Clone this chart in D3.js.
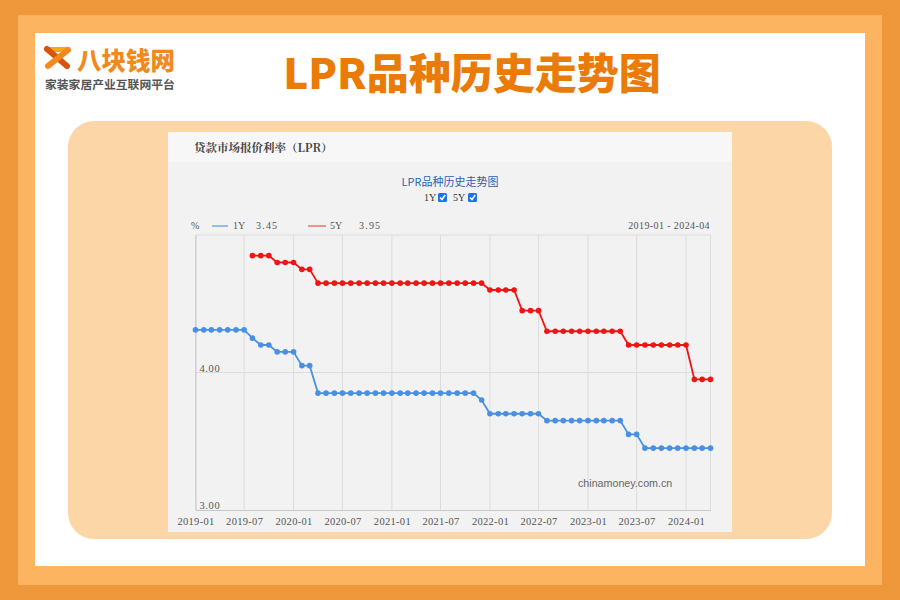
<html>
<head>
<meta charset="utf-8">
<script src="https://d3js.org/d3.v7.min.js"></script>
<style>
	body { margin: 0; background: #ffffff; }
	svg { display: block; }
</style>
</head>
<body>
<script>
	// months shown in the chart (2019-01 .. 2024-04)
	var months = [
		"2019-01","2019-02","2019-03","2019-04","2019-05","2019-06","2019-07","2019-08","2019-09","2019-10","2019-11","2019-12",
		"2020-01","2020-02","2020-03","2020-04","2020-05","2020-06","2020-07","2020-08","2020-09","2020-10","2020-11","2020-12",
		"2021-01","2021-02","2021-03","2021-04","2021-05","2021-06","2021-07","2021-08","2021-09","2021-10","2021-11","2021-12",
		"2022-01","2022-02","2022-03","2022-04","2022-05","2022-06","2022-07","2022-08","2022-09","2022-10","2022-11","2022-12",
		"2023-01","2023-02","2023-03","2023-04","2023-05","2023-06","2023-07","2023-08","2023-09","2023-10","2023-11","2023-12",
		"2024-01","2024-02","2024-03","2024-04"];
	var lpr1y = [
		4.31,4.31,4.31,4.31,4.31,4.31,4.31,4.25,4.20,4.20,4.15,4.15,
		4.15,4.05,4.05,3.85,3.85,3.85,3.85,3.85,3.85,3.85,3.85,3.85,
		3.85,3.85,3.85,3.85,3.85,3.85,3.85,3.85,3.85,3.85,3.85,3.80,
		3.70,3.70,3.70,3.70,3.70,3.70,3.70,3.65,3.65,3.65,3.65,3.65,
		3.65,3.65,3.65,3.65,3.65,3.55,3.55,3.45,3.45,3.45,3.45,3.45,
		3.45,3.45,3.45,3.45];
	var lpr5y = [
		null,null,null,null,null,null,null,4.85,4.85,4.85,4.80,4.80,
		4.80,4.75,4.75,4.65,4.65,4.65,4.65,4.65,4.65,4.65,4.65,4.65,
		4.65,4.65,4.65,4.65,4.65,4.65,4.65,4.65,4.65,4.65,4.65,4.65,
		4.60,4.60,4.60,4.60,4.45,4.45,4.45,4.30,4.30,4.30,4.30,4.30,
		4.30,4.30,4.30,4.30,4.30,4.20,4.20,4.20,4.20,4.20,4.20,4.20,
		4.20,3.95,3.95,3.95];
	var xTicks = ["2019-01","2019-07","2020-01","2020-07","2021-01","2021-07","2022-01","2022-07","2023-01","2023-07","2024-01"];
	var yTicks = [3, 4];

	var width = 900, height = 600;
	var parse = d3.timeParse("%Y-%m");
	var blue = "#4a90e2", red = "#f01414";

	var svg = d3.select("body").append("svg")
		.attr("width", width)
		.attr("height", height);

	// frame
	svg.append("rect").attr("width", width).attr("height", height).attr("fill", "#ee973b");
	svg.append("rect").attr("x", 18).attr("y", 15).attr("width", 864).attr("height", 570).attr("fill", "#fdb460");
	svg.append("rect").attr("x", 35).attr("y", 33).attr("width", 830).attr("height", 533).attr("fill", "#ffffff");
	svg.append("rect").attr("x", 68).attr("y", 121).attr("width", 764).attr("height", 418)
		.attr("rx", 26).attr("fill", "#fdd6a7");

	// logo
	var logo = svg.append("g");
	logo.append("path").attr("d", "M46,47 L70,47 L70,52 L46,52 Z").attr("fill", "#f5a623");
	logo.append("path").attr("d", "M47,49 L67,66").attr("stroke", "#d9540b").attr("stroke-width", 6).attr("stroke-linecap", "round");
	logo.append("path").attr("d", "M68,50 L48,66").attr("stroke", "#f08a1c").attr("stroke-width", 6).attr("stroke-linecap", "round");
	logo.append("text").attr("x", 77).attr("y", 70).text("八块钱网")
		.attr("font-family", "Noto Sans CJK SC").attr("font-weight", 900).attr("font-size", 24.5)
		.attr("fill", "#f08a1c");
	logo.append("text").attr("x", 45).attr("y", 89).text("家装家居产业互联网平台")
		.attr("font-family", "Noto Sans CJK SC").attr("font-weight", 700).attr("font-size", 11.8)
		.attr("fill", "#555555");

	// main title
	svg.append("text").attr("x", 472).attr("y", 89).attr("text-anchor", "middle")
		.text("LPR品种历史走势图")
		.attr("font-family", "Noto Sans CJK SC").attr("font-weight", 900).attr("font-size", 42)
		.attr("fill", "#ea7b06");

	// embedded chart box
	svg.append("rect").attr("x", 168).attr("y", 132).attr("width", 564).attr("height", 400).attr("fill", "#f2f2f2");
	svg.append("rect").attr("x", 168).attr("y", 132).attr("width", 564).attr("height", 30).attr("fill", "#f7f7f7");
	svg.append("text").attr("x", 194).attr("y", 152).text("贷款市场报价利率（LPR）")
		.attr("font-family", "Noto Serif CJK SC, Noto Sans CJK SC").attr("font-weight", 700).attr("font-size", 11.5)
		.attr("fill", "#444");

	var serif = "Liberation Serif";
	svg.append("text").attr("x", 450).attr("y", 186).attr("text-anchor", "middle")
		.text("LPR品种历史走势图")
		.attr("font-family", "Noto Sans CJK SC").attr("font-size", 11).attr("fill", "#2b5faf");

	// checkboxes
	var chk = [{ label: "1Y", x: 424, bx: 438 }, { label: "5Y", x: 453, bx: 468 }];
	chk.forEach(function(c) {
		svg.append("text").attr("x", c.x).attr("y", 201).text(c.label)
			.attr("font-family", serif).attr("font-size", 10).attr("fill", "#333");
		svg.append("rect").attr("x", c.bx).attr("y", 193).attr("width", 9).attr("height", 9).attr("rx", 1.5)
			.attr("fill", "#1a73e8");
		svg.append("path").attr("d", "M" + (c.bx + 2) + ",197.5 L" + (c.bx + 4) + ",199.5 L" + (c.bx + 7.2) + ",195")
			.attr("stroke", "#fff").attr("stroke-width", 1.5).attr("fill", "none");
	});

	// legend row
	var lg = svg.append("g").attr("font-family", serif).attr("font-size", 10).attr("fill", "#555");
	lg.append("text").attr("x", 191).attr("y", 229).text("%");
	lg.append("line").attr("x1", 212).attr("x2", 228).attr("y1", 226).attr("y2", 226).attr("stroke", "#93bce9").attr("stroke-width", 2);
	lg.append("text").attr("x", 233).attr("y", 229).text("1Y");
	lg.append("text").attr("x", 256).attr("y", 229).attr("letter-spacing", 1.2).text(lpr1y[lpr1y.length - 1].toFixed(2));
	lg.append("line").attr("x1", 308).attr("x2", 326).attr("y1", 226).attr("y2", 226).attr("stroke", "#e99393").attr("stroke-width", 2);
	lg.append("text").attr("x", 330).attr("y", 229).text("5Y");
	lg.append("text").attr("x", 359).attr("y", 229).attr("letter-spacing", 1.2).text(lpr5y[lpr5y.length - 1].toFixed(2));
	lg.append("text").attr("x", 710).attr("y", 229).attr("text-anchor", "end").attr("letter-spacing", 0.4)
		.text(months[0] + " - " + months[months.length - 1]);

	// scales
	var x = d3.scaleTime()
		.domain([parse(months[0]), parse(months[months.length - 1])])
		.range([195.5, 710.5]);
	var y = d3.scaleLinear().domain([3, 5]).range([510, 235]);

	var plot = svg.append("g");
	// vertical grid
	plot.selectAll(".vgrid").data(xTicks).enter().append("line")
		.attr("x1", function(d) { return x(parse(d)); })
		.attr("x2", function(d) { return x(parse(d)); })
		.attr("y1", y(5)).attr("y2", y(3))
		.attr("stroke", "#dcdcdc").attr("stroke-width", 1);
	// horizontal grid
	plot.selectAll(".hgrid").data([4, 5]).enter().append("line")
		.attr("x1", x.range()[0]).attr("x2", x.range()[1])
		.attr("y1", function(d) { return y(d); }).attr("y2", function(d) { return y(d); })
		.attr("stroke", "#dcdcdc").attr("stroke-width", 1);
	plot.append("line").attr("x1", x.range()[1]).attr("x2", x.range()[1]).attr("y1", y(5)).attr("y2", y(3))
		.attr("stroke", "#dcdcdc");

	// axes
	var xAxis = d3.axisBottom(x)
		.tickValues(xTicks.map(parse))
		.tickFormat(d3.timeFormat("%Y-%m"))
		.tickSize(0).tickPadding(8);
	var gx = svg.append("g").attr("transform", "translate(0," + y(3) + ")").call(xAxis);
	gx.select(".domain").attr("stroke", "#c8c8c8");
	gx.selectAll("text").attr("font-family", serif).attr("font-size", 10.5).attr("fill", "#555")
		.attr("letter-spacing", 0.3);

	var yAxis = d3.axisLeft(y).tickValues(yTicks).tickFormat(d3.format(".2f")).tickSize(0);
	var gy = svg.append("g").attr("transform", "translate(" + x.range()[0] + ",0)").call(yAxis);
	gy.select(".domain").attr("stroke", "#c8c8c8");
	gy.selectAll("text").attr("font-family", serif).attr("font-size", 10.5).attr("fill", "#555")
		.attr("text-anchor", "start").attr("x", 4).attr("dy", "-0.1em").attr("letter-spacing", 0.6);

	// watermark
	svg.append("text").attr("x", 578).attr("y", 487).text("chinamoney.com.cn")
		.attr("font-family", "Liberation Sans").attr("font-size", 10.7).attr("fill", "#666");

	// series
	var series = [{ values: lpr1y, color: blue }, { values: lpr5y, color: red }];
	var line = d3.line()
		.defined(function(d) { return d.v != null; })
		.x(function(d) { return x(d.t); })
		.y(function(d) { return y(d.v); });
	series.forEach(function(s) {
		var pts = months.map(function(m, i) { return { t: parse(m), v: s.values[i] }; });
		svg.append("path").datum(pts).attr("d", line)
			.attr("fill", "none").attr("stroke", s.color).attr("stroke-width", 1.8);
		svg.append("g").selectAll("circle")
			.data(pts.filter(function(d) { return d.v != null; }))
			.enter().append("circle")
			.attr("cx", function(d) { return x(d.t); })
			.attr("cy", function(d) { return y(d.v); })
			.attr("r", 2.8)
			.attr("fill", s.color);
	});
</script>
</body>
</html>
